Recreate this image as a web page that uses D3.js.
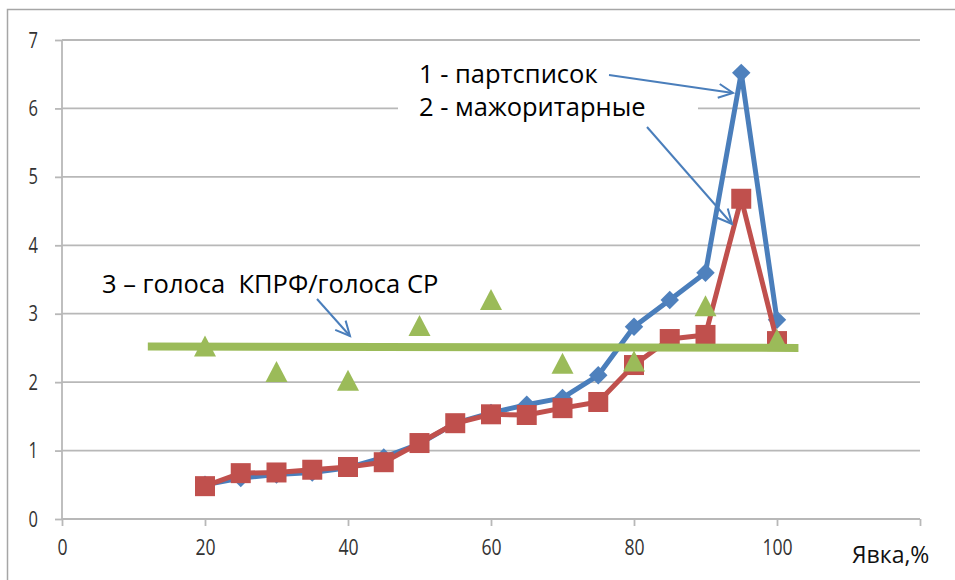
<!DOCTYPE html>
<html>
<head>
<meta charset="utf-8">
<script src="https://cdn.jsdelivr.net/npm/d3@7"></script>
<style>
  html, body { margin: 0; padding: 0; background: #fff; }
  svg { display: block; font-family: "Open Sans", sans-serif; }
</style>
</head>
<body>
<svg id="chart" width="955" height="580"></svg>
<script>
// ---- data ----
const turnout = [20, 25, 30, 35, 40, 45, 50, 55, 60, 65, 70, 75, 80, 85, 90, 95, 100];
const partyList = [0.5, 0.6, 0.65, 0.68, 0.75, 0.9, 1.1, 1.4, 1.55, 1.67, 1.77, 2.1, 2.81, 3.2, 3.6, 6.52, 2.91];
const majoritarian = [0.48, 0.67, 0.68, 0.72, 0.76, 0.83, 1.11, 1.4, 1.53, 1.52, 1.62, 1.71, 2.25, 2.63, 2.69, 4.68, 2.6];
const ratioX = [20, 30, 40, 50, 60, 70, 80, 90, 100];
const ratioKPRF_SR = [2.52, 2.15, 2.02, 2.82, 3.2, 2.27, 2.3, 3.11, 2.62];
const trendX = [12, 103];
const trendY = [2.52, 2.5];
const xTicks = [0, 20, 40, 60, 80, 100, 120];
const yTicks = [0, 1, 2, 3, 4, 5, 6, 7];
const xAxisTitle = "Явка,%";
const labels = ["1 - партсписок", "2 - мажоритарные", "3 – голоса  КПРФ/голоса СР"];

// ---- layout ----
const svg = d3.select("#chart");
const x = d3.scaleLinear().domain([0, 120]).range([62, 920]);
const y = d3.scaleLinear().domain([0, 7]).range([519, 40]);

const blue = "#4a7ebb", red = "#c0504d", green = "#9bbb59", grid = "#b8b8b8";

// outer frame
svg.append("rect").attr("x", 7.5).attr("y", 9.5).attr("width", 960).attr("height", 600)
  .attr("fill", "none").attr("stroke", "#a6a6a6").attr("stroke-width", 1.5);

// gridlines
svg.append("g").selectAll("line").data(yTicks.filter(d => d > 0)).join("line")
  .attr("x1", x(0)).attr("x2", x(120))
  .attr("y1", d => y(d)).attr("y2", d => y(d))
  .attr("stroke", grid).attr("stroke-width", 1.8);

// y axis
const yAxis = svg.append("g").attr("transform", `translate(${x(0)},0)`)
  .call(d3.axisLeft(y).tickValues(yTicks).tickSize(7).tickPadding(25).tickFormat(d3.format("d")));
yAxis.select(".domain").attr("stroke", grid).attr("stroke-width", 1.8).attr("d", `M0,${y(7)}V${y(0)}`);
yAxis.selectAll(".tick line").attr("stroke", grid).attr("stroke-width", 1.8);
yAxis.selectAll(".tick text").attr("font-size", 22).attr("fill", "#333")
  .attr("font-family", "Open Sans, sans-serif").attr("transform", "scale(0.75,1)");

// x axis
const xAxis = svg.append("g").attr("transform", `translate(0,${y(0)})`)
  .call(d3.axisBottom(x).tickValues(xTicks).tickSize(7).tickPadding(13)
    .tickFormat(d => d === 120 ? "" : d3.format("d")(d)));
xAxis.select(".domain").attr("stroke", grid).attr("stroke-width", 1.8).attr("d", `M${x(0)},0H${x(120)}`);
xAxis.selectAll(".tick line").attr("stroke", grid).attr("stroke-width", 1.8);
xAxis.selectAll(".tick text").attr("font-size", 22).attr("fill", "#333")
  .attr("font-family", "Open Sans, sans-serif").attr("transform", "scale(0.8,1)");

svg.append("text").attr("x", 852).attr("y", 563).attr("font-size", 23).attr("fill", "#111")
  .text(xAxisTitle);

// series
const line = d3.line().x(d => x(d[0])).y(d => y(d[1]));
const s1 = turnout.map((t, i) => [t, partyList[i]]);
const s2 = turnout.map((t, i) => [t, majoritarian[i]]);
const s3 = ratioX.map((t, i) => [t, ratioKPRF_SR[i]]);

svg.append("path").attr("d", line(s1)).attr("fill", "none").attr("stroke", blue)
  .attr("stroke-width", 5).attr("stroke-linejoin", "round");
svg.append("g").selectAll("path").data(s1).join("path")
  .attr("d", d3.symbol(d3.symbolSquare, 170)())
  .attr("transform", d => `translate(${x(d[0])},${y(d[1])}) rotate(45)`)
  .attr("fill", "#4f81bd");

svg.append("path").attr("d", line(s2)).attr("fill", "none").attr("stroke", red)
  .attr("stroke-width", 5).attr("stroke-linejoin", "round");
svg.append("g").selectAll("rect").data(s2).join("rect")
  .attr("x", d => x(d[0]) - 10).attr("y", d => y(d[1]) - 10)
  .attr("width", 20).attr("height", 20).attr("fill", red);

// trend line
const trend = trendX.map((t, i) => [t, trendY[i]]);
svg.append("path").attr("d", line(trend)).attr("fill", "none").attr("stroke", green)
  .attr("stroke-width", 8);

// series 3 triangles
svg.append("g").selectAll("path").data(s3).join("path")
  .attr("d", "M0,-11L11,10L-11,10Z")
  .attr("transform", d => `translate(${x(d[0])},${y(d[1])})`)
  .attr("fill", green);

// annotations
svg.append("rect").attr("x", 398).attr("y", 96).attr("width", 300).attr("height", 26).attr("fill", "#fff");

function arrow(x1, y1, x2, y2) {
  svg.append("line").attr("x1", x1).attr("y1", y1).attr("x2", x2).attr("y2", y2)
    .attr("stroke", blue).attr("stroke-width", 2);
  const a = Math.atan2(y2 - y1, x2 - x1), L = 16, w = 0.45;
  const p1 = [x2 - L * Math.cos(a - w), y2 - L * Math.sin(a - w)];
  const p2 = [x2 - L * Math.cos(a + w), y2 - L * Math.sin(a + w)];
  svg.append("path").attr("d", `M${p1}L${x2},${y2}L${p2}`).attr("fill", "none")
    .attr("stroke", blue).attr("stroke-width", 2);
}

svg.append("text").attr("x", 419).attr("y", 83).attr("font-size", 25.5).attr("fill", "#000").text(labels[0]);
svg.append("text").attr("x", 419).attr("y", 116).attr("font-size", 25.5).attr("fill", "#000").text(labels[1]);
svg.append("text").attr("x", 102).attr("y", 293).attr("font-size", 25.5).attr("fill", "#000").text(labels[2])
  .style("white-space", "pre");

arrow(609, 75, 733, 93);
arrow(647, 127, 732, 224);
arrow(317, 299, 350, 336);
</script>
</body>
</html>
